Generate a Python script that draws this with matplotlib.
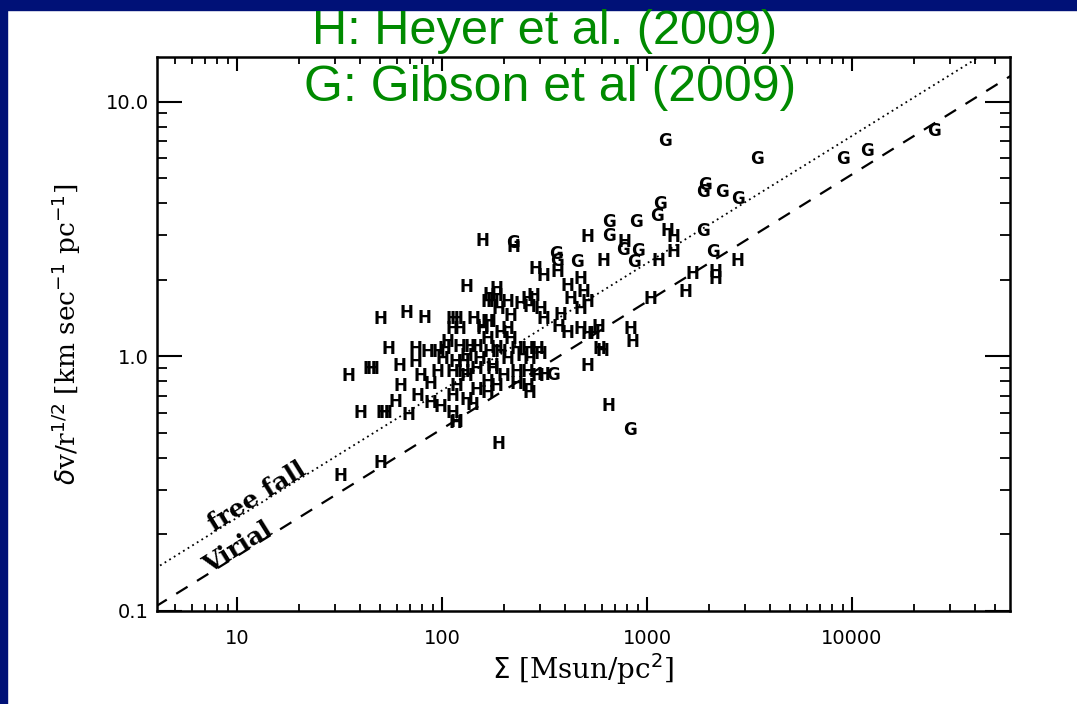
import matplotlib
matplotlib.use('Agg')
import matplotlib.pyplot as plt
from matplotlib.patches import Rectangle
from matplotlib.ticker import LogLocator, NullFormatter, FixedLocator, FixedFormatter

# Heyer et al. (2009) clouds: surface density [Msun/pc^2], dv/r^1/2
h_sigma = [31.8, 49.9, 34.8, 44.1, 46.0, 49.9, 66.7, 81.7, 54.5, 61.7,
           62.4, 39.8, 51.0, 52.7, 59.0, 68.2, 73.8, 73.8, 84.5, 78.1,
           75.5, 87.4, 94.5, 95.6, 103, 113, 122, 116, 127, 132,
           132, 113, 97.8, 118, 137, 148, 158, 166, 166, 171,
           177, 185, 132, 140, 148, 166, 87.4, 112, 116, 188,
           157, 222, 515, 610, 284, 311, 364, 171, 185, 177,
           208, 188, 215, 240, 260, 278, 268, 301, 311, 407,
           421, 471, 488, 510, 471, 377, 368, 407, 471, 510,
           545, 577, 603, 510, 118, 113, 142, 158, 171, 192,
           208, 215, 166, 148, 185, 192, 122, 106, 101, 127,
           153, 113, 132, 177, 208, 232, 260, 291, 248, 268,
           301, 232, 260, 291, 311, 232, 260, 199, 185, 166,
           268, 118, 773, 1132, 1253, 1340, 1340, 1675, 2147, 2147,
           2748, 1532, 1035, 826, 845, 583, 645]
h_dv = [0.34, 0.383, 0.834, 0.889, 0.889, 1.40, 1.48, 1.41, 1.07, 0.913,
        0.762, 0.602, 0.602, 0.602, 0.665, 0.591, 1.07, 0.955, 1.04, 0.834,
        0.696, 0.659, 0.865, 1.04, 1.07, 1.40, 1.28, 0.947, 0.865, 1.0,
        0.677, 0.602, 0.635, 0.555, 1.09, 0.889, 1.28, 1.37, 1.63, 1.04,
        0.889, 1.72, 1.87, 0.647, 0.741, 0.790, 0.776, 0.696, 0.55, 0.454,
        2.84, 2.69, 2.94, 2.37, 2.20, 2.07, 2.14, 1.75, 1.84, 1.63,
        1.63, 1.53, 1.44, 1.60, 1.68, 1.72, 1.57, 1.53, 1.40, 1.89,
        1.68, 2.01, 1.79, 1.63, 1.53, 1.46, 1.31, 1.24, 1.28, 1.22,
        1.22, 1.30, 1.05, 0.913, 1.40, 1.28, 1.40, 1.31, 1.36, 1.24,
        1.28, 1.17, 1.17, 1.09, 1.08, 1.04, 1.09, 1.14, 0.973, 0.947,
        0.973, 0.865, 0.834, 0.913, 0.973, 1.07, 1.07, 1.07, 1.0, 0.973,
        1.02, 0.865, 0.865, 0.834, 0.849, 0.776, 0.762, 0.834, 0.762, 0.721,
        0.721, 0.762, 2.81, 2.37, 3.10, 2.94, 2.57, 2.10, 2.14, 2.01,
        2.37, 1.79, 1.68, 1.28, 1.14, 1.07, 0.641]

# Gibson et al. (2009)
g_sigma = [1224, 3443, 9040, 11830, 25100, 1918, 1875, 2323, 2780, 1157,
           1120, 653, 653, 884, 1875, 2098, 764, 904, 865, 360,
           364, 456, 222, 348, 826]
g_dv = [7.02, 5.97, 5.97, 6.41, 7.69, 4.71, 4.42, 4.42, 4.15, 3.97,
        3.56, 3.37, 2.97, 3.37, 3.10, 2.57, 2.62, 2.59, 2.34, 2.52,
        2.37, 2.34, 2.78, 0.849, 0.516]

# reference relations, end points
line_sigma = [4, 60000]
freefall_dv = [0.147, 18.0]
virial_dv = [0.104, 12.7]

fig = plt.figure(figsize=(10.77, 7.04), dpi=100)
fig.patch.set_facecolor('white')
navy = '#001177'
fig.patches.append(Rectangle((0, 0), 7 / 1077, 1, transform=fig.transFigure, color=navy, zorder=0))
fig.patches.append(Rectangle((0, 1 - 10 / 704), 1, 10 / 704, transform=fig.transFigure, color=navy, zorder=0))

ax = fig.add_axes([157 / 1077, 1 - 611 / 704, 853 / 1077, 554 / 704])
ax.set_xscale('log')
ax.set_yscale('log')
ax.set_xlim(4.07, 59000)
ax.set_ylim(0.1, 15)

ax.plot(line_sigma, freefall_dv, color='black', linestyle=(0, (1, 2)), linewidth=1.3)
ax.plot(line_sigma, virial_dv, color='black', linestyle=(0, (6, 5)), linewidth=1.6)

for s, v in zip(h_sigma, h_dv):
    ax.text(s, v, 'H', ha='center', va='center', fontsize=12, family='DejaVu Sans',
            fontweight='bold', color='black', clip_on=True)
for s, v in zip(g_sigma, g_dv):
    ax.text(s, v, 'G', ha='center', va='center', fontsize=12, family='DejaVu Sans',
            fontweight='bold', color='black', clip_on=True)

ax.text(12.5, 0.281, 'free fall', rotation=32, ha='center', va='center', fontsize=18,
        family='DejaVu Serif', fontweight='bold', rotation_mode='anchor')
ax.text(10.1, 0.177, 'Virial', rotation=32, ha='center', va='center', fontsize=18,
        family='DejaVu Serif', fontweight='bold', rotation_mode='anchor')

ax.xaxis.set_major_locator(FixedLocator([10, 100, 1000, 10000]))
ax.xaxis.set_major_formatter(FixedFormatter(['10', '100', '1000', '10000']))
ax.xaxis.set_minor_locator(LogLocator(base=10, subs=range(2, 10)))
ax.xaxis.set_minor_formatter(NullFormatter())
ax.yaxis.set_major_locator(FixedLocator([0.1, 1, 10]))
ax.yaxis.set_major_formatter(FixedFormatter(['0.1', '1.0', '10.0']))
ax.yaxis.set_minor_locator(LogLocator(base=10, subs=range(2, 10)))
ax.yaxis.set_minor_formatter(NullFormatter())

ax.tick_params(axis='x', which='major', direction='in', length=10, width=1.5, top=True, labelsize=14, pad=13)
ax.tick_params(axis='x', which='minor', direction='in', length=5, width=1.3, top=True)
ax.tick_params(axis='y', which='major', direction='in', length=18, width=1.5, right=True, labelsize=14, pad=6)
ax.tick_params(axis='y', which='minor', direction='in', length=7, width=1.3, right=True)
for sp in ax.spines.values():
    sp.set_linewidth(1.8)

ax.set_xlabel(r'$\Sigma$ [Msun/pc$^2$]', fontsize=20, family='DejaVu Serif', labelpad=2)
ax.set_ylabel(r'$\delta$v/r$^{1/2}$ [km sec$^{-1}$ pc$^{-1}$]', fontsize=19, family='DejaVu Serif', labelpad=16)

green = '#008a00'
fig.text(545 / 1077, 1 - 31 / 704, 'H: Heyer et al. (2009)', ha='center', va='center',
         fontsize=35, color=green, family='Liberation Sans')
fig.text(550 / 1077, 1 - 88 / 704, 'G: Gibson et al (2009)', ha='center', va='center',
         fontsize=36, color=green, family='Liberation Sans')

fig.savefig('out.png', dpi=100)
